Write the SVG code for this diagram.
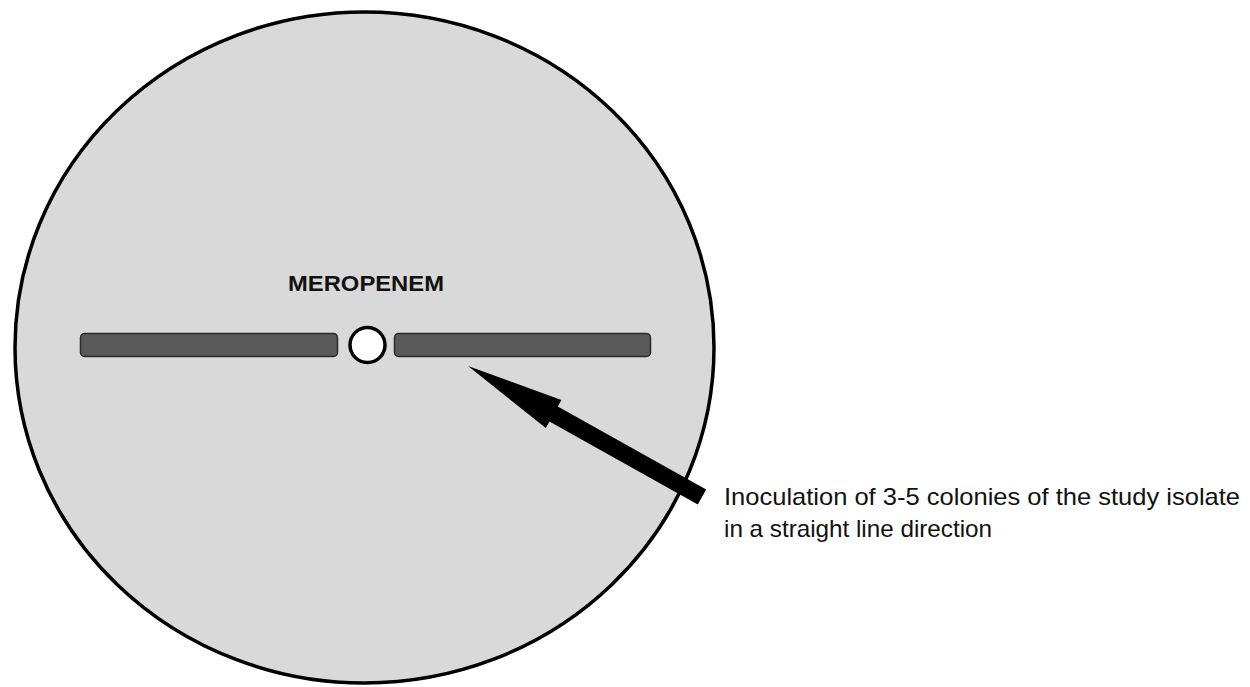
<svg xmlns="http://www.w3.org/2000/svg" width="1250" height="687" viewBox="0 0 1250 687">
<style>
.bar{fill:#595959;stroke:#2b2b2b;stroke-width:1.5}
.lbl{font-family:"Liberation Sans",Arial,sans-serif;fill:#111}
</style>
<rect width="1250" height="687" fill="#ffffff"/>
<g id="plate">
<ellipse cx="364.5" cy="347.5" rx="349.5" ry="335.5" fill="#d9d9d9" stroke="#000" stroke-width="3.5"/>
</g>
<g id="meropenem-label">
<text class="lbl" x="288" y="291" font-size="22" font-weight="bold" textLength="156" lengthAdjust="spacingAndGlyphs">MEROPENEM</text>
</g>
<g id="left-streak">
<rect class="bar" x="80.5" y="333.5" width="257" height="23" rx="4"/>
</g>
<g id="right-streak">
<rect class="bar" x="394.5" y="333.5" width="256" height="23" rx="4"/>
</g>
<g id="disc">
<circle cx="367.5" cy="345" r="17.5" fill="#ffffff" stroke="#000" stroke-width="3.5"/>
</g>
<g id="connectors">
<polygon points="468,366 561.4,400 557.8,406.6 706.2,489.6 697.8,504.4 549.4,421.4 545.8,428" fill="#000"/>
</g>
<g id="annotation">
<text class="lbl" x="724" y="505" font-size="24" textLength="516" lengthAdjust="spacingAndGlyphs">Inoculation of 3-5 colonies of the study isolate</text>
<text class="lbl" x="724" y="537" font-size="24" textLength="268" lengthAdjust="spacingAndGlyphs">in a straight line direction</text>
</g>
</svg>
